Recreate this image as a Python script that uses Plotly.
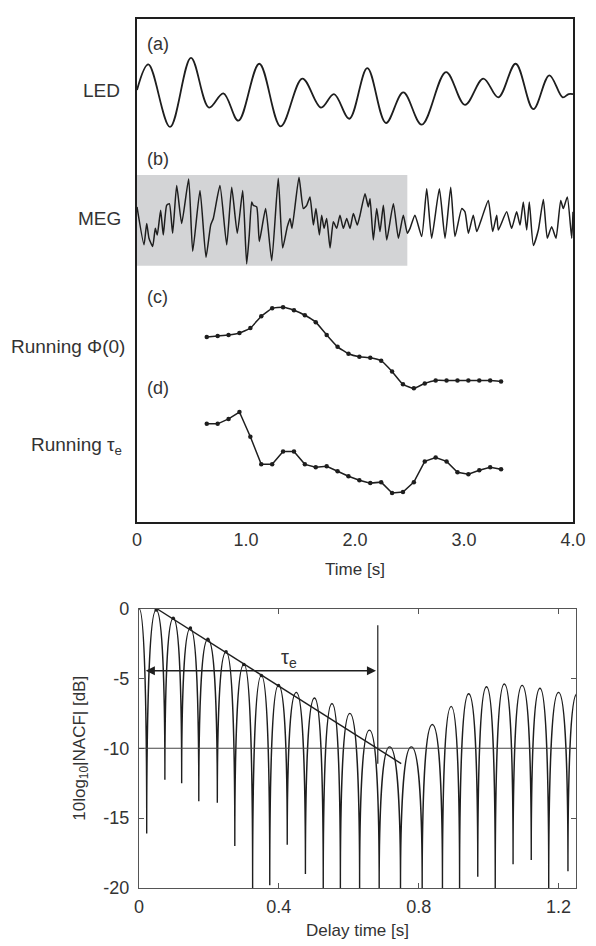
import plotly.graph_objects as go

# (a) LED stimulus, extrema (time in s, arbitrary units)
led_t = [0, 0.104, 0.303, 0.495, 0.661, 0.792, 0.930, 1.122, 1.318, 1.517, 1.688, 1.807, 1.948,
         2.113, 2.284, 2.443, 2.612, 2.835, 3.009, 3.177, 3.315, 3.474, 3.636, 3.783, 3.905, 3.96, 4.0]
led_v = [0, 2.6, -3.73, 3.27, -1.77, -0.33, -3.1, 2.67, -3.67, 1.17, -1.77, -0.4, -2.9,
         2.23, -3.33, -0.23, -3.5, 1.83, -1.5, 1.17, -0.73, 2.67, -1.93, 1.5, -0.73, -0.4, -0.4]

# (b) MEG signal
meg_t = [0.0, 0.064, 0.089, 0.110, 0.144, 0.168, 0.186, 0.217, 0.241, 0.272, 0.297, 0.327, 0.364,
         0.410, 0.474, 0.511, 0.578, 0.633, 0.676, 0.700, 0.761, 0.823, 0.869, 0.920, 0.970, 1.006,
         1.030, 1.052, 1.067, 1.098, 1.122, 1.180, 1.236, 1.296, 1.336, 1.379, 1.404, 1.422, 1.486,
         1.526, 1.557, 1.587, 1.618, 1.642, 1.673, 1.694, 1.716, 1.740, 1.771, 1.801, 1.832, 1.862,
         1.893, 1.924, 1.954, 1.985, 2.021, 2.046, 2.092, 2.122, 2.138, 2.168, 2.199, 2.229, 2.260,
         2.291, 2.352, 2.398, 2.443, 2.480, 2.505, 2.550, 2.612, 2.658, 2.703, 2.774, 2.826, 2.878,
         2.917, 2.979, 3.009, 3.040, 3.085, 3.117, 3.162, 3.223, 3.263, 3.300, 3.315, 3.391, 3.437,
         3.483, 3.514, 3.544, 3.575, 3.599, 3.636, 3.682, 3.728, 3.764, 3.804, 3.844, 3.887, 3.911,
         3.948, 3.988, 4.0]
meg_v = [1.47, -2.37, -0.2, -1.7, -2.53, -0.7, -1.37, 1.13, -1.37, 1.63, 1.8, -1.2, 3.63,
         -0.2, 4.3, -3.03, 3.13, -3.63, -0.37, 0.3, 3.63, -2.37, 3.47, -1.2, 3.13, -4.3,
         -1.37, 1.97, 1.63, 1.47, -2.03, 1.3, -3.97, 4.37, -2.7, -0.53, 0.3, -0.7, 4.47,
         1.3, 1.63, 2.47, -0.37, 1.3, -1.37, 0.63, -0.7, 0.3, -2.7, -0.03, -0.7, 0.63,
         -0.7, 0.3, -0.7, 0.8, -0.37, 0.63, 2.8, 1.47, 2.3, -1.87, 1.3, -1.03, 1.63,
         -1.87, 1.8, -1.7, 0.63, -1.2, -0.7, 0.63, -1.53, 3.3, -1.7, 3.3, -1.7, 3.47,
         -1.53, 1.3, 0.97, -1.2, 0.63, -1.03, 0.3, 2.13, -1.03, 0.63, -0.87, 0.97, -0.7,
         0.97, -0.37, 1.97, -0.87, 1.97, -2.43, -0.87, 2.23, -1.7, -0.53, -1.7, 2.13, 1.3,
         2.47, -1.7, 0.97]
shade_end = 2.48

# (c), (d) running Φ(0) and running τe, one value every 0.1 s
run_t = [0.64, 0.74, 0.84, 0.94, 1.04, 1.14, 1.24, 1.34, 1.44, 1.54, 1.64, 1.74, 1.84, 1.94,
         2.04, 2.14, 2.24, 2.34, 2.44, 2.54, 2.64, 2.74, 2.84, 2.94, 3.04, 3.14, 3.24, 3.34]
run_phi0 = [5.2, 5.3, 5.4, 5.6, 6.1, 7.3, 8.1, 8.2, 7.9, 7.4, 6.7, 5.4, 4.2, 3.5,
            3.2, 3.1, 2.8, 1.7, 0.4, 0.0, 0.5, 0.8, 0.8, 0.8, 0.8, 0.8, 0.8, 0.7]
run_taue = [7.2, 7.2, 7.7, 8.4, 5.9, 3.1, 3.1, 4.4, 4.4, 3.1, 2.8, 2.9, 2.4, 1.9,
            1.5, 1.2, 1.3, 0.2, 0.3, 1.3, 3.4, 3.8, 3.4, 2.3, 2.1, 2.5, 2.8, 2.6]

# NACF in dB: cusps (zeros) and lobe peaks
zero_t = [-0.022, 0.022, 0.074, 0.122, 0.171, 0.224, 0.274, 0.325, 0.374, 0.424, 0.476, 0.527,
          0.576, 0.631, 0.687, 0.748, 0.810, 0.868, 0.917, 0.969, 1.019, 1.070, 1.122, 1.172,
          1.227, 1.280]
zero_db = [-16.1, -16.1, -12.25, -12.5, -13.8, -13.9, -17.0, -20, -19.8, -16.9, -19.0, -20,
           -20, -20, -20, -20, -20, -20, -20, -19.2, -20, -18.3, -18.0, -20, -18.8, -20]
peak_t = [0.0, 0.049, 0.098, 0.147, 0.197, 0.249, 0.300, 0.350, 0.399, 0.450, 0.502, 0.552,
          0.603, 0.659, 0.717, 0.779, 0.839, 0.893, 0.943, 0.994, 1.045, 1.096, 1.147, 1.200,
          1.253]
peak_db = [0.0, -0.1, -0.7, -1.4, -2.2, -3.1, -4.0, -4.8, -5.5, -6.0, -6.4, -6.8,
           -7.5, -8.7, -9.9, -9.9, -8.3, -7.0, -6.1, -5.6, -5.4, -5.5, -5.7, -6.0,
           -6.1]
envelope_t = [0.05, 0.75]
envelope_db = [0.0, -11.1]
tau_e = 0.683
tau_level = -4.45
threshold_db = -10

top_ticks = [0, 1, 2, 3, 4]
top_ticktext = ["0", "1.0", "2.0", "3.0", "4.0"]
db_ticks = [0, -5, -10, -15, -20]
db_ticktext = ["0", "-5", "-10", "-15", "-20"]

INK = "#1e1e1e"
TXT = "#333333"
FONT = "Liberation Sans, Arial, sans-serif"

fig = go.Figure()

fig.add_trace(go.Scatter(x=led_t, y=led_v, mode="lines", line=dict(color=INK, width=1.8, shape="spline", smoothing=1.0),
                         xaxis="x", yaxis="y"))
fig.add_trace(go.Scatter(x=meg_t, y=meg_v, mode="lines", line=dict(color=INK, width=1.5, shape="spline", smoothing=0.5),
                         xaxis="x", yaxis="y2"))
fig.add_trace(go.Scatter(x=run_t, y=run_phi0, mode="lines+markers", line=dict(color=INK, width=1.5, shape="spline", smoothing=0.4),
                         marker=dict(size=4.5, color=INK), xaxis="x", yaxis="y3"))
fig.add_trace(go.Scatter(x=run_t, y=run_taue, mode="lines+markers", line=dict(color=INK, width=1.5),
                         marker=dict(size=4.5, color=INK), xaxis="x", yaxis="y4"))
fig.add_trace(go.Scatter(x=envelope_t, y=envelope_db, mode="lines", line=dict(color=INK, width=1.4),
                         xaxis="x2", yaxis="y5"))
# the fitted peaks sitting on the decay line
fig.add_trace(go.Scatter(x=peak_t[1:9], y=peak_db[1:9], mode="markers", marker=dict(size=3.5, color=INK),
                         xaxis="x2", yaxis="y5"))

# NACF lobes: one bezier arch per lobe, zero -> peak -> zero, in data coordinates
path = ""
for i in range(len(peak_t)):
    t0, d0 = zero_t[i], zero_db[i]
    tp, pk = peak_t[i], peak_db[i]
    t1, d1 = zero_t[i + 1], zero_db[i + 1]
    wl, wr = tp - t0, t1 - tp
    path += (f"M{t0},{d0} C{t0},{pk - 0.5 * (pk - d0)} {t0 + 0.25 * wl},{pk} {tp},{pk} "
             f"C{t1 - 0.25 * wr},{pk} {t1},{pk - 0.5 * (pk - d1)} {t1},{d1} ")
fig.add_shape(type="path", xref="x2", yref="y5", path=path, line=dict(color=INK, width=1.4))

fig.add_shape(type="rect", xref="x", yref="y2", x0=0, x1=shade_end, y0=-4.5, y1=4.7,
              fillcolor="#d3d4d6", line_width=0, layer="below")
fig.add_shape(type="line", xref="x2 domain", yref="y5", x0=0, x1=1, y0=threshold_db, y1=threshold_db,
              line=dict(color="#444444", width=1.2))
fig.add_shape(type="line", xref="x2", yref="y5", x0=tau_e, x1=tau_e, y0=-1.2, y1=-11.1,
              line=dict(color=INK, width=1.2))

fig.add_annotation(x=tau_e - 0.005, y=tau_level, ax=0.015, ay=tau_level, xref="x2", yref="y5",
                   axref="x2", ayref="y5", text="", showarrow=True, arrowhead=2, arrowside="end+start",
                   arrowsize=1.3, arrowwidth=1.4, arrowcolor=INK)
fig.add_annotation(x=0.43, y=-3.6, xref="x2", yref="y5", text="τ<sub>e</sub>", showarrow=False,
                   font=dict(size=20, color=TXT))

# row labels and panel letters
for txt, yref, yv, xp in [("LED", "y", 0, -0.034), ("MEG", "y2", 0.3, -0.032),
                          ("Running Φ(0)", "y3", 4.2, -0.023), ("Running τ<sub>e</sub>", "y4", 5.0, -0.030)]:
    fig.add_annotation(x=xp, y=yv, xref="paper", yref=yref, text=txt, showarrow=False,
                       xanchor="right", yanchor="middle", font=dict(size=19, color=TXT))
for txt, yref, yv in [("(a)", "y", 4.7), ("(b)", "y2", 6.3), ("(c)", "y3", 9.2), ("(d)", "y4", 10.8)]:
    fig.add_annotation(x=0.19, y=yv, xref="x", yref=yref, text=txt, showarrow=False,
                       font=dict(size=18, color=TXT))

top_dom = [0.4216, 1.0]
hidden = dict(domain=top_dom, showticklabels=False, showgrid=False, zeroline=False, ticks="")
fig.update_layout(
    width=588, height=938,
    margin=dict(l=129, r=20, t=1, b=58),
    paper_bgcolor="white", plot_bgcolor="white",
    showlegend=False,
    font=dict(family=FONT, size=18, color=TXT),
    xaxis=dict(domain=[0, 0.9932], range=[0, 4], anchor="y", showline=True, mirror=True,
               linecolor=INK, linewidth=1.6, showgrid=False, zeroline=False, ticks="",
               ticklabelstandoff=1,
               tickvals=top_ticks, ticktext=top_ticktext, tickfont=dict(size=18, color=TXT),
               title=dict(text="Time [s]", font=dict(size=17, color=TXT), standoff=14)),
    yaxis=dict(hidden, range=[-43.7, 7.2], showline=True, mirror=True, linecolor=INK, linewidth=1.6),
    yaxis2=dict(hidden, range=[-30.4, 20.5], overlaying="y"),
    yaxis3=dict(hidden, range=[-13.5, 37.4], overlaying="y"),
    yaxis4=dict(hidden, range=[-2.7, 48.2], overlaying="y"),
    xaxis2=dict(domain=[0.0046, 1], range=[0, 1.25], anchor="y5", showline=True, mirror="ticks",
                linecolor="#555555", linewidth=1.4, showgrid=False, zeroline=False,
                ticks="inside", ticklen=5, tickcolor="#555555", dtick=0.4, tick0=0,
                ticklabelstandoff=2, tickfont=dict(size=18, color=TXT),
                title=dict(text="Delay time [s]", font=dict(size=17, color=TXT), standoff=8)),
    yaxis5=dict(domain=[0, 0.3216], range=[-20, 0], anchor="x2", showline=True, mirror="ticks",
                linecolor="#555555", linewidth=1.4, showgrid=False, zeroline=False,
                ticks="inside", ticklen=5, tickcolor="#555555", ticklabelstandoff=5,
                tickvals=db_ticks, ticktext=db_ticktext, tickfont=dict(size=18, color=TXT),
                title=dict(text="10log<sub>10</sub>|NACF| [dB]", font=dict(size=17, color=TXT), standoff=13)),
)

fig.write_html("out.html")
